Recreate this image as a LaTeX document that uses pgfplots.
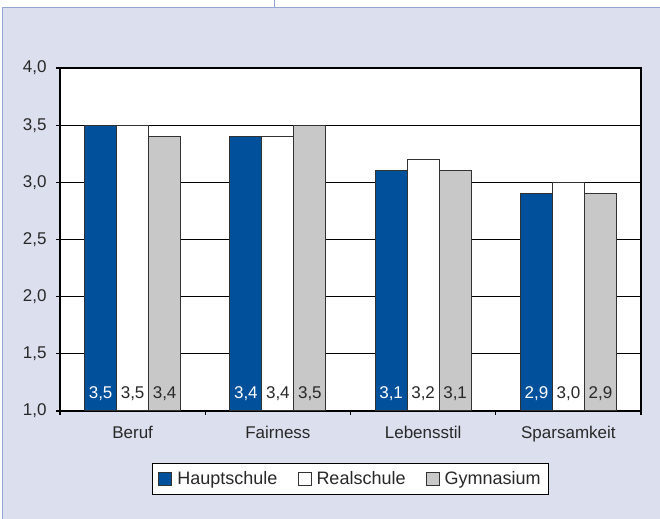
\documentclass[border=0pt]{standalone}
\usepackage{pgfplots}
\pgfplotsset{compat=1.18}
\usetikzlibrary{backgrounds}
\usepackage{fontspec}
\setmainfont{Liberation Sans}
\definecolor{bgl}{RGB}{220,224,238}
\definecolor{bord}{RGB}{150,166,212}
\definecolor{hblue}{RGB}{0,80,155}
\definecolor{ggray}{RGB}{200,200,200}
\definecolor{edge}{RGB}{50,50,50}
\definecolor{txt}{RGB}{40,40,40}

\begin{document}
\begin{tikzpicture}[x=1bp,y=1bp]
\begin{axis}[
  scale only axis, width=581bp, height=343bp,
  axis background/.style={fill=white},
  ybar, bar width=32bp,
  xmin=-0.5, xmax=3.5, ymin=1, ymax=4,
  ytick={1,1.5,2,2.5,3,3.5,4},
  ytick pos=left, xtick pos=bottom,
  xtick={-0.5,0.5,1.5,2.5,3.5},
  xticklabels={},
  extra x ticks={0,1,2,3},
  extra x tick labels={Beruf,Fairness,Lebensstil,Sparsamkeit},
  extra x tick style={major tick length=0pt, grid=none},
  tick align=outside,
  major tick length=4bp,
  tick style={black, line width=1.3bp},
  axis line style={black, line width=1.3bp},
  ymajorgrids, grid style={black, line width=1.3bp},
  tick label style={font=\fontsize{17bp}{20bp}\selectfont, text=txt},
  y tick label style={xshift=-6bp},
  x tick label style={yshift=-12bp},
  /pgf/number format/use comma,
  /pgf/number format/fixed,
  /pgf/number format/fixed zerofill,
  /pgf/number format/precision=1,
  /pgf/number format/assume math mode=true,
  legend style={at={(0.5,-0.198)}, anchor=center, legend columns=-1,
    draw=black, line width=1bp, fill=white, text=txt,
    inner xsep=6bp, inner ysep=6bp,
    font=\fontsize{18bp}{21bp}\selectfont,
    /tikz/every odd column/.append style={column sep=3bp},
    /tikz/every even column/.append style={column sep=18bp}},
  legend image code/.code={\draw[#1, line width=1bp] (0bp,-6.5bp) rectangle (13bp,6.5bp);},
]
\addplot[fill=hblue, draw=edge, line width=1bp, bar shift=-32bp]
  coordinates {(0,3.5) (1,3.4) (2,3.1) (3,2.9)};
\addplot[fill=white, draw=edge, line width=1bp, bar shift=0bp]
  coordinates {(0,3.5) (1,3.4) (2,3.2) (3,3.0)};
\addplot[fill=ggray, draw=edge, line width=1bp, bar shift=32bp]
  coordinates {(0,3.4) (1,3.5) (2,3.1) (3,2.9)};
\legend{Hauptschule, Realschule, Gymnasium}

\addplot[draw=none, fill=none, bar shift=-32bp, forget plot, point meta=explicit,
  nodes near coords, every node near coord/.append style={white, anchor=base, font=\fontsize{17bp}{20bp}\selectfont}]
  coordinates {(0,1.11)[3.5] (1,1.11)[3.4] (2,1.11)[3.1] (3,1.11)[2.9]};
\addplot[draw=none, fill=none, bar shift=0bp, forget plot, point meta=explicit,
  nodes near coords, every node near coord/.append style={txt, anchor=base, font=\fontsize{17bp}{20bp}\selectfont}]
  coordinates {(0,1.11)[3.5] (1,1.11)[3.4] (2,1.11)[3.2] (3,1.11)[3.0]};
\addplot[draw=none, fill=none, bar shift=32bp, forget plot, point meta=explicit,
  nodes near coords, every node near coord/.append style={txt, anchor=base, font=\fontsize{17bp}{20bp}\selectfont}]
  coordinates {(0,1.11)[3.4] (1,1.11)[3.5] (2,1.11)[3.1] (3,1.11)[2.9]};
\coordinate (O) at (rel axis cs:0,0);
\end{axis}
\pgfresetboundingbox
\begin{scope}[on background layer, shift={(O)}, xshift=-60bp, yshift=-108bp]
\fill[white] (0,0) rectangle (660,519);
\fill[bgl] (3,0) rectangle (660,511);
\draw[bord, line width=1bp] (3,0) -- (3,511) -- (660,511);
\draw[bord, line width=1bp] (274,511) -- (274,519);
\end{scope}
\pgfresetboundingbox
\path[use as bounding box, shift={(O)}, xshift=-60bp, yshift=-108bp] (0,0) rectangle (660,519);
\end{tikzpicture}
\end{document}
